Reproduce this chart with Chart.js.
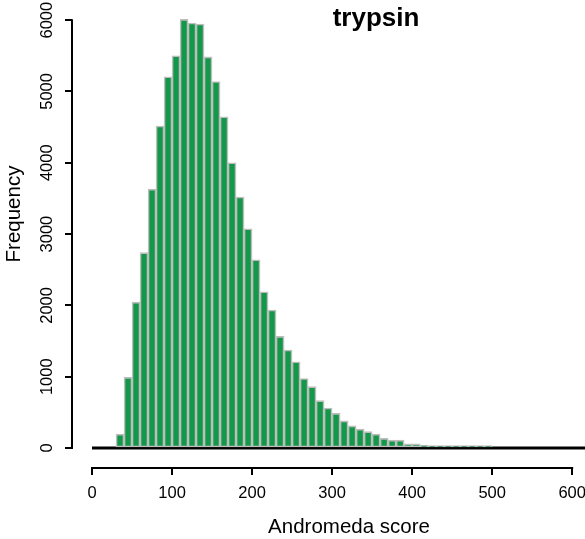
<!DOCTYPE html>
<html>
<head>
<meta charset="utf-8">
<script src="https://cdn.jsdelivr.net/npm/chart.js@4/dist/chart.umd.min.js"></script>
<style>
  html, body { margin: 0; padding: 0; background: #fff; }
  #wrap { width: 585px; height: 539px; }
</style>
</head>
<body>
<div id="wrap"><canvas id="hist" width="585" height="539"></canvas></div>
<script>
// bin left edges (width 10) and counts
const binStarts = [30, 40, 50, 60, 70, 80, 90, 100, 110, 120, 130, 140, 150, 160, 170, 180, 190,
    200, 210, 220, 230, 240, 250, 260, 270, 280, 290, 300, 310, 320, 330, 340, 350, 360, 370,
    380, 390, 400, 410, 420, 430, 440, 450, 460, 470, 480, 490];
const counts = [195, 990, 2045, 2740, 3630, 4515, 5205, 5500, 6010, 5960, 5945, 5485, 5140, 4645,
    4000, 3520, 3075, 2640, 2190, 1935, 1565, 1375, 1210, 975, 860, 665, 560, 485, 380, 310,
    265, 230, 195, 135, 110, 110, 60, 60, 40, 30, 20, 15, 12, 8, 6, 5, 4];
const binWidth = 10;

// zero line under the histogram
const baseLine = [0, 620];

const xTicks = [0, 100, 200, 300, 400, 500, 600];
const yTicks = [0, 1000, 2000, 3000, 4000, 5000, 6000];

const FONT = "'Liberation Sans', Arial, Helvetica, sans-serif";

// R-style detached axes, rotated y labels and titles
const rStyle = {
    id: 'rStyle',
    afterDraw(chart) {
        const { ctx, chartArea, scales: { x, y } } = chart;
        ctx.save();
        ctx.strokeStyle = '#000';
        ctx.lineWidth = 2;
        ctx.lineCap = 'butt';
        // y axis line
        ctx.beginPath();
        ctx.moveTo(chartArea.left, y.getPixelForValue(yTicks[0]) + 1);
        ctx.lineTo(chartArea.left, y.getPixelForValue(yTicks[yTicks.length - 1]) - 1);
        ctx.stroke();
        // x axis line
        ctx.beginPath();
        ctx.moveTo(x.getPixelForValue(xTicks[0]) - 1, chartArea.bottom);
        ctx.lineTo(x.getPixelForValue(xTicks[xTicks.length - 1]) + 1, chartArea.bottom);
        ctx.stroke();

        ctx.fillStyle = '#000';
        ctx.textAlign = 'center';
        ctx.textBaseline = 'middle';
        // y tick labels, reading upwards
        ctx.font = '16.5px ' + FONT;
        yTicks.forEach(v => {
            ctx.save();
            ctx.translate(47, y.getPixelForValue(v));
            ctx.rotate(-Math.PI / 2);
            ctx.fillText(String(v), 0, 0);
            ctx.restore();
        });
        // axis titles
        ctx.font = '20.5px ' + FONT;
        ctx.fillText('Andromeda score', 349, 527);
        ctx.save();
        ctx.translate(14, 214);
        ctx.rotate(-Math.PI / 2);
        ctx.fillText('Frequency', 0, 0);
        ctx.restore();
        // main title
        ctx.font = 'bold 26px ' + FONT;
        ctx.fillText('trypsin', 376, 19);
        ctx.restore();
    }
};

new Chart(document.getElementById('hist'), {
    data: {
        datasets: [
            {
                type: 'bar',
                data: binStarts.map((s, i) => ({ x: s + binWidth / 2, y: counts[i] })),
                backgroundColor: '#139748',
                borderColor: '#bdbdbd',
                borderWidth: 1.6,
                borderSkipped: false,
                minBarLength: 2.5,
                barPercentage: 1,
                categoryPercentage: 1,
                grouped: false,
                order: 0
            },
            {
                type: 'line',
                data: baseLine.map(v => ({ x: v, y: 0 })),
                borderColor: '#000',
                borderWidth: 3,
                pointRadius: 0,
                order: 1
            }
        ]
    },
    options: {
        responsive: false,
        animation: false,
        layout: { padding: { top: 13, right: 0, bottom: 0, left: 0 } },
        plugins: { legend: { display: false }, tooltip: { enabled: false } },
        scales: {
            x: {
                type: 'linear',
                offset: false,
                min: -25,
                max: 616,
                afterBuildTicks: axis => { axis.ticks = xTicks.map(v => ({ value: v })); },
                afterFit: s => { s.height = 71; s.paddingLeft = 0; s.paddingRight = 0; },
                border: { display: false },
                grid: { offset: false, drawOnChartArea: false, drawTicks: true, tickLength: 7, color: '#000', lineWidth: 2 },
                ticks: { color: '#000', padding: 9, maxRotation: 0, font: { family: FONT, size: 16.5 } }
            },
            y: {
                type: 'linear',
                min: -280,
                max: 6100,
                afterBuildTicks: axis => { axis.ticks = yTicks.map(v => ({ value: v })); },
                afterFit: s => { s.width = 72; s.paddingTop = 0; s.paddingBottom = 0; },
                border: { display: false },
                grid: { drawOnChartArea: false, drawTicks: true, tickLength: 7, color: '#000', lineWidth: 2 },
                ticks: { display: false }
            }
        }
    },
    plugins: [rStyle]
});
</script>
</body>
</html>
